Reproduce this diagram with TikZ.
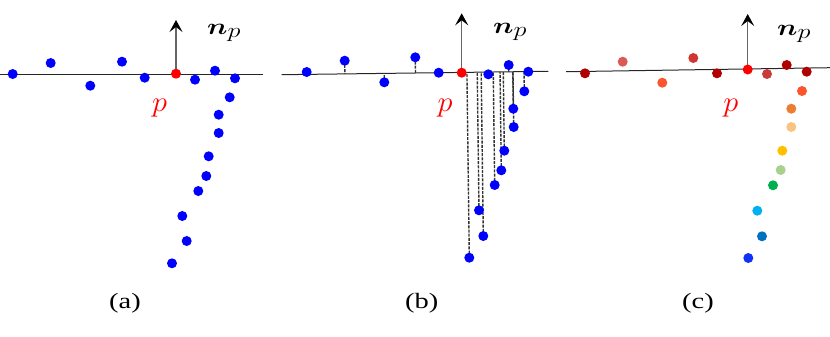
\RequirePackage{fix-cm}
\documentclass[tikz,border=0pt]{standalone}
\usepackage{fontspec}
\setmainfont{Liberation Serif}
\usepackage{bm}
\usetikzlibrary{arrows.meta,calc}
\pgfdeclarelayer{background}
\pgfsetlayers{background,main}
\definecolor{cdred}{RGB}{176,0,0}
\definecolor{cpink}{RGB}{220,90,85}
\definecolor{corred}{RGB}{250,85,45}
\definecolor{cmred}{RGB}{208,55,50}
\definecolor{cmred2}{RGB}{200,60,60}
\definecolor{corange}{RGB}{237,125,49}
\definecolor{clorange}{RGB}{250,195,130}
\definecolor{cgold}{RGB}{255,192,0}
\definecolor{clgreen}{RGB}{169,209,142}
\definecolor{cgreen}{RGB}{0,176,80}
\definecolor{clblue}{RGB}{0,176,240}
\definecolor{cmblue}{RGB}{0,112,192}
\definecolor{cblue}{RGB}{15,50,250}
\newcommand{\normlabel}{\scalebox{1.25}[1]{\fontsize{23}{26}\selectfont$\bm{n}_{\mbox{\fontsize{21}{24}\selectfont$p$}}$}}
\begin{document}
\begin{tikzpicture}[x=1bp,y=-1bp,
  dot/.style={circle,fill=#1,draw=none,inner sep=0pt,minimum size=10bp},
  plane/.style={draw=black!85,line width=1bp},
  normalvec/.style={draw=black!60,line width=1.2bp,-{Stealth[length=12bp,width=13bp,inset=5bp,black]}},
  proj/.style={draw=black!80,line width=1.4bp,dash pattern=on 3bp off 1.2bp},
  nlbl/.style={anchor=base west,inner sep=0pt},
  plbl/.style={anchor=north,inner sep=0pt,text=red,font=\fontsize{29}{32}\selectfont},
  captxt/.style={inner sep=0pt,font=\fontsize{22}{26}\selectfont}]
\useasboundingbox (0,0) rectangle (830,336);

% ---------- (a) ----------
\coordinate (aL) at (0,74);
\coordinate (aR) at (263,74);
\coordinate (atip) at (176,20);
\foreach \n/\x/\y in {a1/12.7/74, a2/50.7/63, a3/90.3/85.7, a4/122/61.7, a5/144.7/77.7,
  a7/195/79.7, a8/215/70.7, a9/235/78.3, a10/229.7/97.3, a11/218.7/114.7, a12/218.7/133,
  a13/208.7/156.3, a14/206.3/176, a15/198.3/191, a16/182.3/216, a17/186.7/241, a18/172/263.3}
  {\node[dot=blue] (\n) at (\x,\y) {};}
\node[dot=red] (pa) at (176,73.7) {};
\begin{pgfonlayer}{background}
\draw[plane] (aL) -- (aR);
\draw[normalvec] (pa.center) -- (atip);
\end{pgfonlayer}
\node[nlbl] (na) at (207,34) {\normlabel};
\node[plbl] (pla) at (159.7,99) {\scalebox{1.05}[1]{$p$}};
\node[captxt] (ca) at (125,303) {\scalebox{1.3}[1]{(a)}};

% ---------- (b) ----------
\coordinate (bL) at (281.7,74.7);
\coordinate (bR) at (548.3,71.3);
\coordinate (btip) at (461.7,13.3);
\foreach \n/\x/\y in {b1/306.7/72, b2/344.7/60.7, b3/384.3/82.3, b4/415.3/57.3, b5/438.7/72.7,
  b7/488.3/74.3, b8/508.7/65, b9/528.3/71.7, b10/524.3/91.3, b11/513.3/108.7, b12/513.7/127,
  b13/504.3/150.7, b14/501.3/170.3, b15/494.7/185, b16/479/210.3, b17/483.3/236, b18/469.3/257.7}
  {\node[dot=blue] (\n) at (\x,\y) {};}
\node[dot=red] (pb) at (461.7,72.7) {};
\begin{pgfonlayer}{background}
\draw[plane] (bL) -- (bR);
\foreach \n in {b1,b2,b3,b4,b5,b7,b8,b9,b10,b11,b12,b13,b14,b15,b16,b17,b18}
  {\draw[proj] (\n.center) -- ($(bL)!(\n.center)!(bR)$);}
\draw[normalvec] (pb.center) -- (btip);
\end{pgfonlayer}
\node[nlbl] (nb) at (493,33) {\normlabel};
\node[plbl] (plb) at (445,99) {\scalebox{1.05}[1]{$p$}};
\node[captxt] (cb) at (421.7,303) {\scalebox{1.3}[1]{(b)}};

% ---------- (c) ----------
\coordinate (cL) at (566,71.7);
\coordinate (cR) at (830,67.7);
\coordinate (ctip) at (747.7,14);
\foreach \n/\x/\y/\c in {c1/585/73.3/cdred, c2/622.7/61.7/cpink, c3/662.3/82.7/corred,
  c4/693.3/58/cmred, c5/717/73.3/cdred, c7/767/74/cmred2, c8/786.7/65/cdred, c9/806.7/71.7/cdred,
  c10/802/91/corred, c11/791.3/108.7/corange, c12/791.3/127/clorange, c13/782.3/150.7/cgold,
  c14/780.7/170/clgreen, c15/773/185.3/cgreen, c16/757.3/210.7/clblue, c17/762/236.3/cmblue,
  c18/748.3/258/cblue}
  {\node[dot=\c] (\n) at (\x,\y) {};}
\node[dot=red] (pc) at (747.7,69.5) {};
\begin{pgfonlayer}{background}
\draw[plane] (cL) -- (cR);
\draw[normalvec] (pc.center) -- (ctip);
\end{pgfonlayer}
\node[nlbl] (nc) at (777,35) {\normlabel};
\node[plbl] (plc) at (730.7,99) {\scalebox{1.05}[1]{$p$}};
\node[captxt] (cc) at (698,303) {\scalebox{1.3}[1]{(c)}};
\end{tikzpicture}
\end{document}
